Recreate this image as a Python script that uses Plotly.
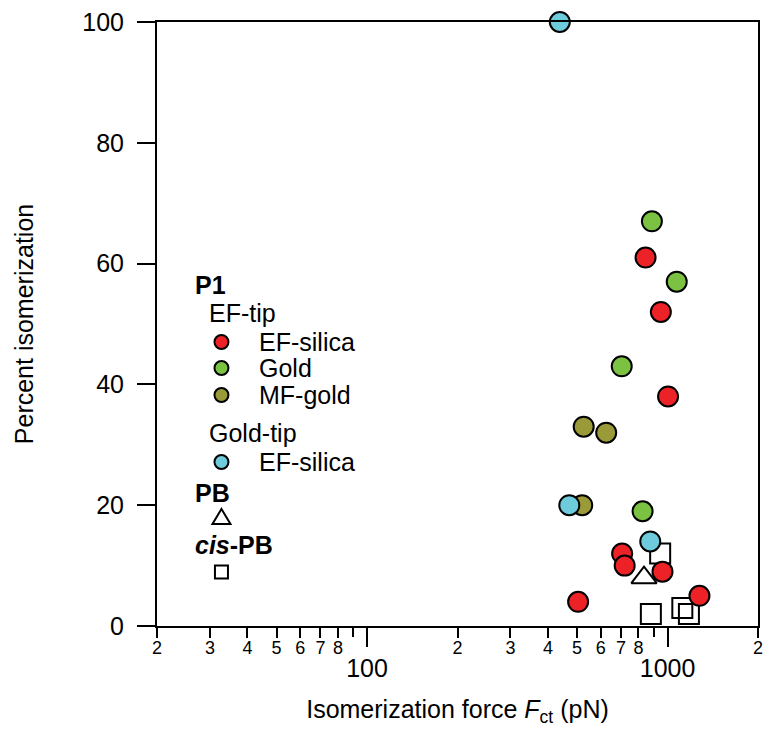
import math
import plotly.graph_objects as go

# --- data: isomerization force (pN) vs percent isomerization ---
ef_silica_x = [845, 950, 1004, 706, 720, 962, 1277, 504]
ef_silica_y = [61, 52, 38, 12, 10, 9, 5, 4]

gold_x = [887, 1073, 704, 826]
gold_y = [67, 57, 43, 19]

mf_gold_x = [526, 625, 520]
mf_gold_y = [33, 32, 20]

goldtip_silica_x = [438, 471, 876]
goldtip_silica_y = [100, 20, 14]

pb_x = [835]
pb_y = [8]

cis_pb_x = [945, 880, 1120, 1178]
cis_pb_y = [12, 2, 3, 2]

# axis ticks
minor_vals = [20, 30, 40, 50, 60, 70, 80,
              200, 300, 400, 500, 600, 700, 800, 2000]
minor_text = ["2", "3", "4", "5", "6", "7", "8",
              "2", "3", "4", "5", "6", "7", "8", "2"]
unlabelled_vals = [90, 900]
major_vals = [100, 1000]
major_text = ["100", "1000"]
y_vals = [0, 20, 40, 60, 80, 100]

RED = "#ED2226"
GREEN = "#7CC242"
OLIVE = "#9B9A38"
CYAN = "#6DCBDB"

FONT = "Liberation Sans, Arial, sans-serif"
W, H = 769, 744
L, R, T, B = 157, 6, 22, 118

fig = go.Figure()

circle_line = dict(color="black", width=2)

fig.add_trace(go.Scatter(x=cis_pb_x, y=cis_pb_y, mode="markers",
                         marker=dict(symbol="square", size=20, color="rgba(0,0,0,0)",
                                     line=circle_line),
                         cliponaxis=False, showlegend=False))
for xs, ys, col in [(ef_silica_x, ef_silica_y, RED),
                    (gold_x, gold_y, GREEN),
                    (mf_gold_x, mf_gold_y, OLIVE),
                    (goldtip_silica_x, goldtip_silica_y, CYAN)]:
    fig.add_trace(go.Scatter(x=xs, y=ys, mode="markers",
                             marker=dict(symbol="circle", size=20, color=col,
                                         line=circle_line),
                             cliponaxis=False, showlegend=False))
fig.add_trace(go.Scatter(x=pb_x, y=pb_y, mode="markers",
                         marker=dict(symbol="triangle-up", size=22, color="white",
                                     line=circle_line),
                         cliponaxis=False, showlegend=False))

log_range = [math.log10(20), math.log10(2000)]

fig.update_layout(
    width=W, height=H,
    margin=dict(l=L, r=R, t=T, b=B),
    paper_bgcolor="white", plot_bgcolor="white",
    font=dict(family=FONT, color="black"),
    xaxis=dict(type="log", range=log_range,
               tickmode="array", tickvals=minor_vals, ticktext=minor_text,
               ticks="outside", ticklen=10, tickwidth=2, tickcolor="black",
               tickfont=dict(size=18), ticklabelstandoff=-6,
               showline=True, linewidth=2, linecolor="black", mirror=True,
               showgrid=False, zeroline=False,
               title=dict(text="Isomerization force <i>F</i><sub>ct</sub> (pN)",
                          font=dict(size=25), standoff=44)),
    xaxis2=dict(type="log", range=log_range, overlaying="x", anchor="y", side="bottom",
                tickmode="array", tickvals=major_vals, ticktext=major_text,
                ticks="outside", ticklen=20, tickwidth=2, tickcolor="black",
                tickfont=dict(size=25), ticklabelstandoff=0,
                minor=dict(tickmode="array", tickvals=unlabelled_vals,
                           ticks="outside", ticklen=10, tickwidth=2, tickcolor="black",
                           showgrid=False),
                showline=False, showgrid=False, zeroline=False),
    yaxis=dict(range=[0, 100], tickmode="array", tickvals=y_vals,
               ticks="outside", ticklen=18, tickwidth=2, tickcolor="black",
               tickfont=dict(size=25), ticklabelstandoff=8,
               showline=True, linewidth=2, linecolor="black", mirror=True,
               showgrid=False, zeroline=False,
               title=dict(text="Percent isomerization", font=dict(size=25), standoff=42)),
)
# placeholder trace so the overlaid axis is drawn
fig.add_trace(go.Scatter(x=[100], y=[None], xaxis="x2", yaxis="y",
                         showlegend=False, hoverinfo="skip"))


def px(xp):
    return (xp - L) / (W - L - R)


def py(yp):
    return (H - B - yp) / (H - T - B)


# legend block
legend_text = [
    ("<b>P1</b>", 193, 285),
    ("EF-tip", 207, 313),
    ("EF-silica", 258, 342),
    ("Gold", 258, 368),
    ("MF-gold", 258, 395),
    ("Gold-tip", 207, 433),
    ("EF-silica", 258, 462),
    ("<b>PB</b>", 193, 493),
    ("<b><i>cis</i>-PB</b>", 193, 545),
]
for txt, x0, y0 in legend_text:
    fig.add_annotation(text=txt, x=px(x0), y=py(y0), xref="paper", yref="paper",
                       xanchor="left", yanchor="middle", showarrow=False,
                       font=dict(size=25, family=FONT, color="black"))

for col, y0 in [(RED, 342), (GREEN, 368), (OLIVE, 395), (CYAN, 462)]:
    fig.add_shape(type="circle", xref="paper", yref="paper",
                  xsizemode="pixel", ysizemode="pixel",
                  xanchor=px(222), yanchor=py(y0), x0=-7, x1=7, y0=-7, y1=7,
                  fillcolor=col, line=dict(color="black", width=2))
fig.add_shape(type="path", xref="paper", yref="paper",
              xsizemode="pixel", ysizemode="pixel",
              xanchor=px(222), yanchor=py(517),
              path="M -9,-7 L 9,-7 L 0,8 Z",
              fillcolor="white", line=dict(color="black", width=2))
fig.add_shape(type="path", xref="paper", yref="paper",
              xsizemode="pixel", ysizemode="pixel",
              xanchor=px(222), yanchor=py(572),
              path="M -6.5,-6.5 L 6.5,-6.5 L 6.5,6.5 L -6.5,6.5 Z",
              fillcolor="white", line=dict(color="black", width=2))

fig.write_html("out.html")
